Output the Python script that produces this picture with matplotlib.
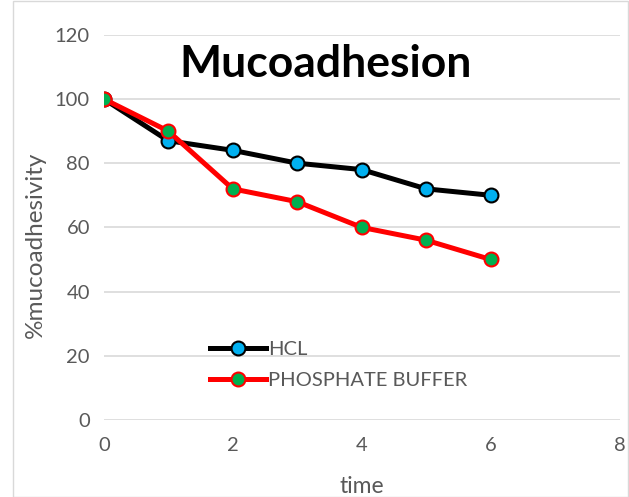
import matplotlib.pyplot as plt
import matplotlib.patches as mpatches

time = [0, 1, 2, 3, 4, 5, 6]
hcl = [100, 87, 84, 80, 78, 72, 70]
phosphate = [100, 90, 72, 68, 60, 56, 50]
x_ticks = [0, 2, 4, 6, 8]
y_ticks = [0, 20, 40, 60, 80, 100, 120]

plt.rcParams['font.family'] = ['Lato', 'DejaVu Sans']

fig = plt.figure(figsize=(6.29, 4.97), dpi=100)
ax = fig.add_axes([0.165, 0.155, 0.820, 0.775])

ax.plot(time, hcl, color='black', linewidth=3.6, marker='o', markersize=10,
        markerfacecolor='#00B0F0', markeredgecolor='black', markeredgewidth=1.5,
        label='HCL', zorder=3)
ax.plot(time, phosphate, color='#FF0000', linewidth=3.6, marker='o', markersize=10,
        markerfacecolor='#00B050', markeredgecolor='#FF0000', markeredgewidth=1.5,
        label='PHOSPHATE BUFFER', zorder=4)

ax.set_xlim(0, 8)
ax.set_ylim(0, 120)
ax.set_xticks(x_ticks)
ax.set_yticks(y_ticks)
ax.tick_params(length=0, labelsize=14.5, labelcolor='#595959')
ax.tick_params(axis='x', pad=12)
ax.tick_params(axis='y', pad=10)
ax.grid(axis='y', color='#D9D9D9', linewidth=1.2)
ax.set_axisbelow(True)
for s in ax.spines.values():
    s.set_visible(False)

ax.set_xlabel('time', fontsize=16.5, color='#595959', labelpad=16)
ax.set_ylabel('%mucoadhesivity', fontsize=17.5, color='#595959')
ax.yaxis.set_label_coords(-0.112, 0.455)

ax.text(0.43, 0.925, 'Mucoadhesion', transform=ax.transAxes, ha='center',
        va='center', fontsize=32, fontweight='bold', color='black')

ax.legend(loc='upper left', bbox_to_anchor=(0.19, 0.227), frameon=False,
          fontsize=14.5, handlelength=2.8, handletextpad=0.1, labelspacing=0.7,
          labelcolor='#595959', borderaxespad=0)

fig.patches.append(mpatches.Rectangle((0.02, 0.0), 0.978, 0.998, transform=fig.transFigure,
                                      fill=False, edgecolor='#D9D9D9', linewidth=1))

plt.savefig('out.png', dpi=100)
